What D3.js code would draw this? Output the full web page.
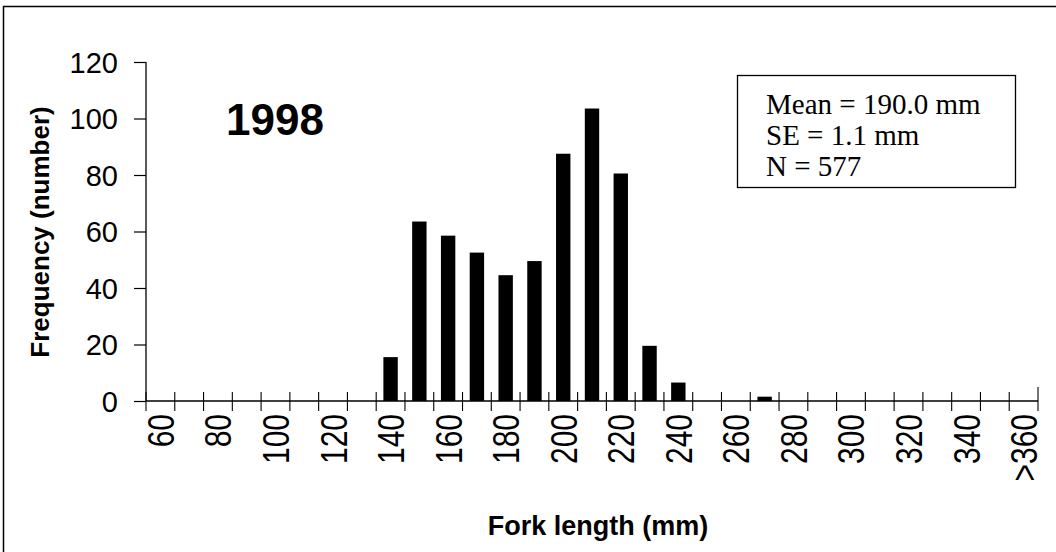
<!DOCTYPE html>
<html>
<head>
<meta charset="utf-8">
<script src="https://cdn.jsdelivr.net/npm/d3@7"></script>
<style>
  html, body { margin: 0; padding: 0; background: #fff; }
  svg { display: block; }
</style>
</head>
<body>
<svg id="chart" width="1056" height="552"></svg>
<script>
// ---- Data ----
const categories = ["60","70","80","90","100","110","120","130","140","150","160","170","180","190","200","210","220","230","240","250","260","270","280","290","300","310","320","330","340","350",">360"];
const frequency  = [0,0,0,0,0,0,0,0,15,63,58,52,44,49,87,103,80,19,6,0,0,1,0,0,0,0,0,0,0,0,0];
const tickLabels = ["60","80","100","120","140","160","180","200","220","240","260","280","300","320","340",">360"];
const yTicks = [0,20,40,60,80,100,120];
const yearLabel = "1998";
const statsLines = ["Mean = 190.0 mm","SE = 1.1 mm","N = 577"];
const xTitle = "Fork length (mm)";
const yTitle = "Frequency (number)";

// ---- Layout ----
const W = 1056, H = 552;
const plot = { left: 146, right: 1038, top: 62, bottom: 401 };
const svg = d3.select("#chart");

// outer frame
svg.append("rect")
  .attr("x", 3.5).attr("y", 6.5)
  .attr("width", W + 10).attr("height", H + 10)
  .attr("fill", "#fff").attr("stroke", "#000").attr("stroke-width", 1.5);

const x = d3.scaleBand().domain(categories)
  .range([plot.left, plot.right]).paddingInner(0.5).paddingOuter(0.25);
const y = d3.scaleLinear().domain([0, 120]).range([plot.bottom, plot.top]);
const step = x.step();

// bars
svg.append("g").selectAll("rect")
  .data(categories.map((c, i) => ({ c, v: frequency[i] })).filter(d => d.v > 0))
  .join("rect")
  .attr("x", d => x(d.c))
  .attr("y", d => y(d.v) - 1.5)
  .attr("width", x.bandwidth())
  .attr("height", d => plot.bottom - y(d.v) + 1.5)
  .attr("fill", "#000");

// y axis
const yAxis = d3.axisLeft(y).tickValues(yTicks).tickSize(12).tickPadding(16).tickFormat(d3.format("d"));
const gy = svg.append("g").attr("transform", `translate(${plot.left},0)`).call(yAxis);
gy.select(".domain").attr("stroke", "#000").attr("stroke-width", 1.3).attr("d", `M0,${plot.top}V${plot.bottom}`);
gy.selectAll(".tick line").attr("stroke", "#000").attr("stroke-width", 1.2);
gy.selectAll(".tick text")
  .attr("font-family", "Liberation Sans, Arial, sans-serif")
  .attr("font-size", 29).attr("fill", "#000").attr("dy", "0.36em");

// x axis line
svg.append("line")
  .attr("x1", plot.left).attr("x2", plot.right)
  .attr("y1", plot.bottom).attr("y2", plot.bottom)
  .attr("stroke", "#000").attr("stroke-width", 1.3);

// cross ticks at category boundaries
const boundaries = categories.map(c => x(c) - step * 0.25).concat([plot.right]);
svg.append("g").selectAll("line")
  .data(boundaries)
  .join("line")
  .attr("x1", d => d).attr("x2", d => d)
  .attr("y1", (d, i) => i === boundaries.length - 1 ? plot.bottom - 14 : plot.bottom - 9)
  .attr("y2", plot.bottom + 10)
  .attr("stroke", "#000").attr("stroke-width", 1.1);

// x tick labels (every other category, rotated)
const labelled = categories.filter((c, i) => i % 2 === 0);
svg.append("g").selectAll("text")
  .data(labelled.map((c, i) => ({ c, t: tickLabels[i] })))
  .join("text")
  .attr("transform", d => `translate(${x(d.c) + x.bandwidth() / 2},${plot.bottom + 13}) scale(1.25,1) rotate(-90)`)
  .attr("text-anchor", "end")
  .attr("dy", "0.36em")
  .attr("font-family", "Liberation Sans, Arial, sans-serif")
  .attr("font-size", 30).attr("fill", "#000")
  .text(d => d.t);

// axis titles
svg.append("text")
  .attr("x", 598).attr("y", 535)
  .attr("text-anchor", "middle")
  .attr("font-family", "Liberation Sans, Arial, sans-serif")
  .attr("font-weight", "bold").attr("font-size", 27).attr("fill", "#000")
  .text(xTitle);

svg.append("text")
  .attr("transform", `translate(49,232) rotate(-90)`)
  .attr("text-anchor", "middle")
  .attr("font-family", "Liberation Sans, Arial, sans-serif")
  .attr("font-weight", "bold").attr("font-size", 26).attr("fill", "#000")
  .text(yTitle);

// year label
svg.append("text")
  .attr("x", 226).attr("y", 135)
  .attr("font-family", "Liberation Sans, Arial, sans-serif")
  .attr("font-weight", "bold").attr("font-size", 44).attr("fill", "#000")
  .text(yearLabel);

// stats box
svg.append("rect")
  .attr("x", 737.5).attr("y", 75.5).attr("width", 278).attr("height", 112)
  .attr("fill", "#fff").attr("stroke", "#000").attr("stroke-width", 1.3);
svg.append("g").selectAll("text")
  .data(statsLines)
  .join("text")
  .attr("x", 766).attr("y", (d, i) => 114 + i * 31)
  .attr("font-family", "Liberation Serif, Times New Roman, serif")
  .attr("font-size", 29).attr("fill", "#000")
  .text(d => d);
</script>
</body>
</html>
